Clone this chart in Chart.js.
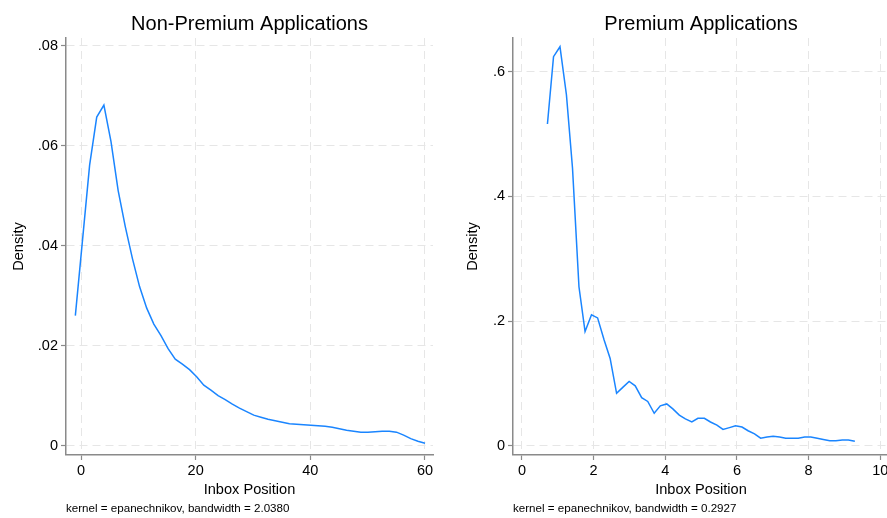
<!DOCTYPE html>
<html>
<head>
<meta charset="utf-8">
<script src="https://cdn.jsdelivr.net/npm/chart.js@4.4.0/dist/chart.umd.min.js"></script>
<style>
html,body{margin:0;padding:0;background:#fff;overflow:hidden;width:887px;height:518px;}
#wrapL{position:absolute;left:0;top:0;width:443px;height:518px;}
#wrapR{position:absolute;left:443px;top:0;width:456px;height:518px;}
</style>
</head>
<body>
<div id="wrapL"><canvas id="cL" width="443" height="518"></canvas></div>
<div id="wrapR"><canvas id="cR" width="456" height="518"></canvas></div>
<script>
// ---- Data ----
const nonPremiumX = [-0.99, 0.26, 1.50, 2.74, 3.99, 5.23, 6.48, 7.72, 8.97, 10.21,
  11.46, 12.70, 13.95, 15.19, 16.44, 17.68, 18.93, 20.17, 21.42, 22.66,
  23.91, 25.15, 26.40, 27.64, 28.89, 30.13, 31.38, 32.62, 33.87, 35.11,
  36.36, 37.60, 38.85, 40.09, 41.34, 42.58, 43.83, 45.07, 46.32, 47.56,
  48.81, 50.05, 51.30, 52.54, 53.79, 55.03, 56.28, 57.52, 58.77, 60.01];
const nonPremiumDensity = [0.0260, 0.0411, 0.0561, 0.0657, 0.0681, 0.0608, 0.0510, 0.0438, 0.0374, 0.0318,
  0.0275, 0.0243, 0.0220, 0.0194, 0.0173, 0.0163, 0.0152, 0.0138, 0.0121, 0.0111,
  0.0100, 0.0092, 0.0083, 0.0075, 0.0068, 0.0061, 0.0057, 0.0053, 0.0050, 0.0047,
  0.0044, 0.0043, 0.0042, 0.0041, 0.0040, 0.0039, 0.0037, 0.0034, 0.0031, 0.0029,
  0.0027, 0.0027, 0.0028, 0.0029, 0.0029, 0.0027, 0.0021, 0.0014, 0.0009, 0.0005];

const premiumX = [0.71, 0.88, 1.06, 1.24, 1.41, 1.59, 1.76, 1.94, 2.11, 2.29,
  2.46, 2.64, 2.82, 2.99, 3.16, 3.34, 3.51, 3.69, 3.86, 4.04,
  4.21, 4.39, 4.56, 4.74, 4.91, 5.09, 5.26, 5.44, 5.61, 5.79,
  5.96, 6.14, 6.31, 6.49, 6.66, 6.84, 7.01, 7.19, 7.36, 7.54,
  7.71, 7.89, 8.06, 8.24, 8.41, 8.59, 8.76, 8.94, 9.11, 9.29];
const premiumDensity = [0.516, 0.624, 0.640, 0.563, 0.445, 0.255, 0.183, 0.210, 0.205, 0.170,
  0.140, 0.084, 0.094, 0.103, 0.096, 0.077, 0.071, 0.052, 0.064, 0.067,
  0.059, 0.049, 0.043, 0.038, 0.044, 0.044, 0.038, 0.033, 0.026, 0.029,
  0.032, 0.030, 0.024, 0.019, 0.012, 0.014, 0.015, 0.014, 0.012, 0.012,
  0.012, 0.014, 0.014, 0.012, 0.010, 0.008, 0.008, 0.009, 0.009, 0.007];

const nonPremiumXTicks = [0, 20, 40, 60];
const nonPremiumYTicks = [0, 0.02, 0.04, 0.06, 0.08];
const nonPremiumYTickLabels = ['0', '.02', '.04', '.06', '.08'];
const premiumXTicks = [0, 2, 4, 6, 8, 10];
const premiumYTicks = [0, 0.2, 0.4, 0.6];
const premiumYTickLabels = ['0', '.2', '.4', '.6'];

const panelTitles = ['Non-Premium Applications', 'Premium Applications'];
const panelNotes = ['kernel = epanechnikov, bandwidth = 2.0380', 'kernel = epanechnikov, bandwidth = 0.2927'];
const xAxisTitle = 'Inbox Position';
const yAxisTitle = 'Density';

// ---- Styling ----
const FONT = '"Liberation Sans", Arial, Helvetica, sans-serif';
const LINE_COLOR = '#1a85ff';
const GRID_COLOR = '#e6e6e6';
const AXIS_COLOR = '#8a8a8a';

function makePanel(canvasId, xs, ys, xTicks, yTicks, yLabels, xRange, yRange, yAxisWidth, yTitlePad, title, note) {
  const points = xs.map((x, i) => ({x: x, y: ys[i]}));
  return new Chart(document.getElementById(canvasId), {
    type: 'line',
    data: {
      datasets: [{
        data: points,
        borderColor: LINE_COLOR,
        borderWidth: 1.5,
        pointRadius: 0,
        tension: 0,
        fill: false
      }]
    },
    options: {
      responsive: false,
      animation: false,
      devicePixelRatio: 1,
      layout: {padding: {left: 0, right: 10, top: 0, bottom: 0}},
      plugins: {
        legend: {display: false},
        tooltip: {enabled: false},
        title: {
          display: true, text: title, fullSize: false,
          font: {family: FONT, size: 20, weight: 'normal'}, color: '#000',
          padding: {top: 12, bottom: 2}
        },
        subtitle: {
          display: true, text: note, position: 'bottom', align: 'start', fullSize: false,
          font: {family: FONT, size: 11.6, weight: 'normal'}, color: '#000',
          padding: {top: 2, bottom: 2.1}
        }
      },
      scales: {
        x: {
          type: 'linear', min: xRange[0], max: xRange[1],
          afterBuildTicks: s => { s.ticks = xTicks.map(v => ({value: v})); },
          afterFit: s => { s.height = 45; },
          ticks: {
            font: {family: FONT, size: 14.5}, color: '#000', padding: 2,
            maxRotation: 0, autoSkip: false,
            callback: v => String(v)
          },
          grid: {color: GRID_COLOR, lineWidth: 1, tickLength: 5, tickColor: AXIS_COLOR, tickWidth: 1.2, tickBorderDash: []},
          border: {color: AXIS_COLOR, width: 1.5, dash: [8, 5]},
          title: {display: true, text: xAxisTitle, font: {family: FONT, size: 14.6}, color: '#000', padding: {top: 0, bottom: 1}}
        },
        y: {
          type: 'linear', min: yRange[0], max: yRange[1],
          afterBuildTicks: s => { s.ticks = yTicks.map(v => ({value: v})); },
          afterFit: s => { s.width = yAxisWidth; },
          ticks: {
            font: {family: FONT, size: 14.5}, color: '#000', padding: 3,
            autoSkip: false,
            callback: v => yLabels[yTicks.indexOf(v)]
          },
          grid: {color: GRID_COLOR, lineWidth: 1, tickLength: 5, tickColor: AXIS_COLOR, tickWidth: 1.2, tickBorderDash: []},
          border: {color: AXIS_COLOR, width: 1.5, dash: [8, 5]},
          title: {display: true, text: yAxisTitle, font: {family: FONT, size: 14.6}, color: '#000', padding: {top: yTitlePad, bottom: 0}}
        }
      }
    }
  });
}

makePanel('cL', nonPremiumX, nonPremiumDensity, nonPremiumXTicks, nonPremiumYTicks, nonPremiumYTickLabels,
  [-2.62, 61.4], [-0.00186, 0.0815], 66, 10.3, panelTitles[0], panelNotes[0]);
makePanel('cR', premiumX, premiumDensity, premiumXTicks, premiumYTicks, premiumYTickLabels,
  [-0.251, 10.243], [-0.0149, 0.654], 70, 21.3, panelTitles[1], panelNotes[1]);
</script>
</body>
</html>
